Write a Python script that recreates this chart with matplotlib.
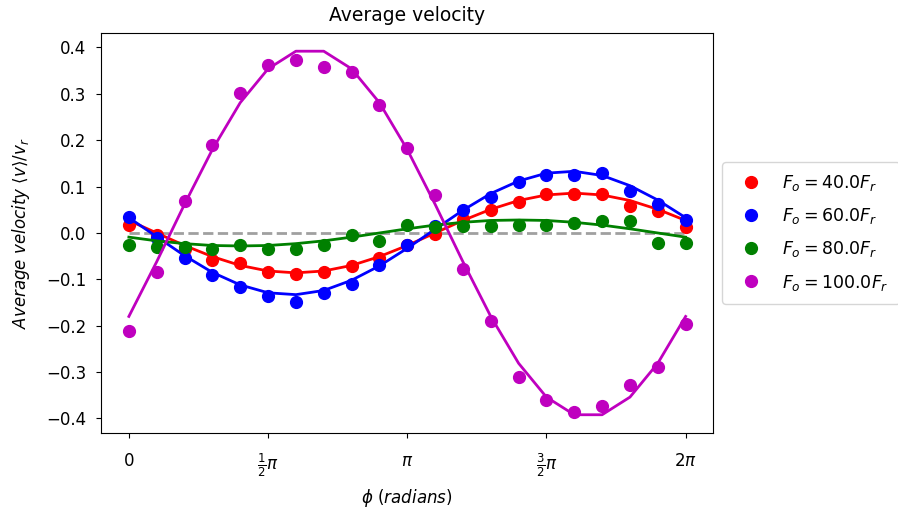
import numpy as np
import matplotlib
matplotlib.use('Agg')
import matplotlib.pyplot as plt

# phase points: 0 .. 2pi in steps of pi/10
phi = np.linspace(0, 2 * np.pi, 21)

forces = [40.0, 60.0, 80.0, 100.0]
colors = ['r', 'b', 'g', 'm']

# measured average velocity (dots)
v_40 = [0.017, -0.004, -0.034, -0.058, -0.065, -0.085, -0.089, -0.084, -0.071, -0.053, -0.025,
        -0.002, 0.030, 0.049, 0.067, 0.085, 0.085, 0.085, 0.058, 0.048, 0.012]
v_60 = [0.035, -0.010, -0.054, -0.090, -0.117, -0.135, -0.149, -0.130, -0.110, -0.070, -0.025,
        0.015, 0.050, 0.078, 0.110, 0.126, 0.126, 0.130, 0.090, 0.063, 0.029]
v_80 = [-0.027, -0.031, -0.031, -0.034, -0.027, -0.034, -0.034, -0.027, -0.005, -0.017, 0.018,
        0.012, 0.014, 0.014, 0.018, 0.018, 0.022, 0.025, 0.025, -0.022, -0.022]
v_100 = [-0.212, -0.084, 0.069, 0.190, 0.302, 0.363, 0.373, 0.358, 0.347, 0.276, 0.184,
         0.081, -0.077, -0.189, -0.311, -0.361, -0.387, -0.374, -0.328, -0.288, -0.197]

# fitted curves (lines)
fit_40 = [0.027, 0.000, -0.027, -0.051, -0.070, -0.082, -0.086, -0.082, -0.070, -0.051, -0.027,
          0.000, 0.027, 0.051, 0.070, 0.082, 0.086, 0.082, 0.070, 0.051, 0.027]
fit_60 = [0.033, -0.008, -0.049, -0.085, -0.112, -0.129, -0.133, -0.124, -0.102, -0.071, -0.033,
          0.008, 0.049, 0.085, 0.112, 0.129, 0.133, 0.124, 0.102, 0.071, 0.033]
fit_80 = [-0.009, -0.017, -0.023, -0.027, -0.028, -0.027, -0.023, -0.017, -0.009, 0.000, 0.009,
          0.017, 0.023, 0.027, 0.028, 0.027, 0.023, 0.017, 0.009, 0.000, -0.009]
fit_100 = [-0.180, -0.062, 0.062, 0.180, 0.281, 0.354, 0.392, 0.392, 0.354, 0.281, 0.180,
           0.062, -0.062, -0.180, -0.281, -0.354, -0.392, -0.392, -0.354, -0.281, -0.180]

measured = [v_40, v_60, v_80, v_100]
fits = [fit_40, fit_60, fit_80, fit_100]

fig = plt.figure(figsize=(8.98, 5.16), dpi=100)
ax = fig.add_axes([0.1125, 0.161, 0.682, 0.775])

ax.plot([phi[0], phi[-1]], [0, 0], '--', color='grey', alpha=0.75, lw=2)
for F, c, v, f in zip(forces, colors, measured, fits):
    ax.plot(phi, v, 'o', color=c, markersize=8.5, label=r'$F_o = %.1fF_r$' % F)
    ax.plot(phi, f, '-', color=c, lw=2)

ax.set_xticks([0, np.pi / 2, np.pi, 3 * np.pi / 2, 2 * np.pi])
ax.set_xticklabels(['0', r'$\frac{1}{2}\pi$', r'$\pi$', r'$\frac{3}{2}\pi$', r'$2\pi$'])
ax.tick_params(labelsize=12, pad=7)
ax.tick_params(axis='x', pad=10)
ax.set_title('Average velocity', fontsize=13.5, pad=9)
ax.set_xlabel(r'$\phi\ (radians)$', fontsize=12, labelpad=6)
ax.set_ylabel(r'$Average\ velocity\ \langle v\rangle/v_r$', fontsize=12, labelpad=10)
ax.legend(loc='center left', bbox_to_anchor=(1.0, 0.5), fontsize=12.5, borderpad=0.65,
          labelspacing=0.75, handletextpad=0.8)

fig.savefig('out.png', dpi=100)
